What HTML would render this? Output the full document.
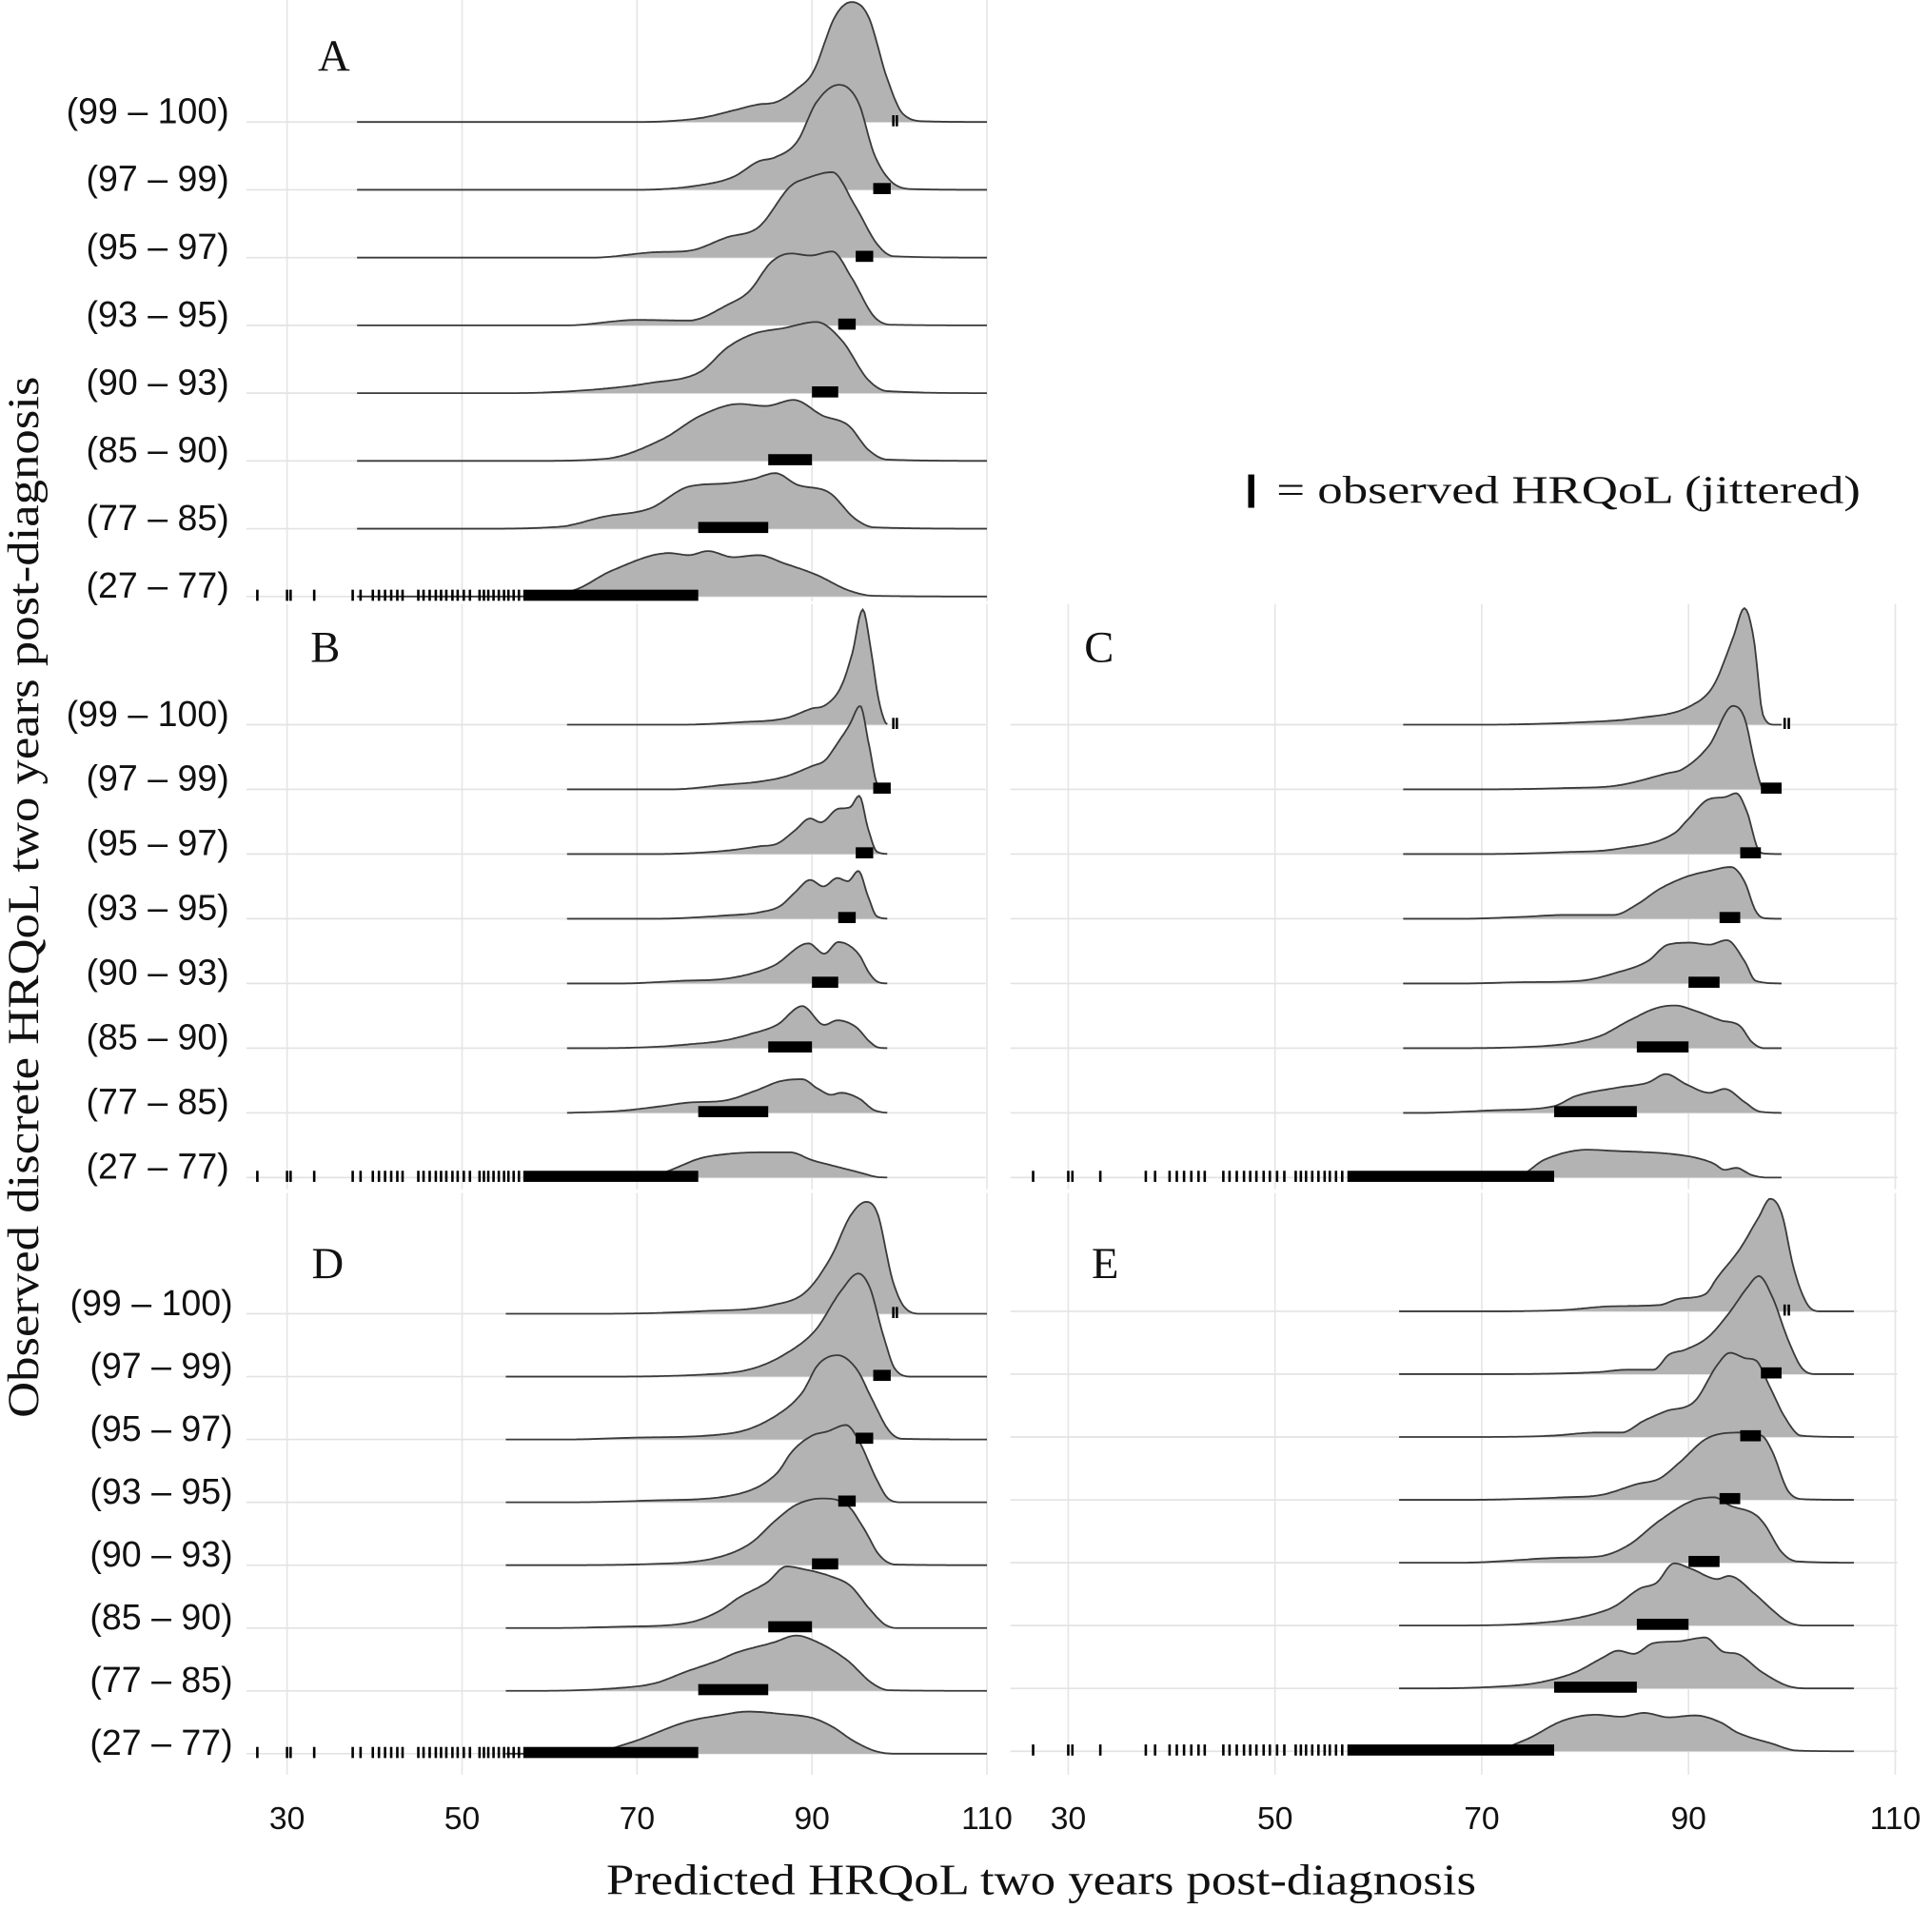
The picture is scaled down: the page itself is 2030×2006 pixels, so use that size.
<!DOCTYPE html>
<html><head><meta charset="utf-8"><style>
html,body{margin:0;padding:0;background:#fff;}
svg{display:block;}
.rl{font-family:"Liberation Sans",sans-serif;font-size:29px;fill:#111;}
.tk{font-family:"Liberation Sans",sans-serif;font-size:26px;fill:#111;}
.ser{font-family:"Liberation Serif",serif;fill:#111;}
</style></head><body>
<svg id="chart" width="2030" height="2006" viewBox="0 0 1568 1549" preserveAspectRatio="none" xmlns="http://www.w3.org/2000/svg">
<rect x="0" y="0" width="1568" height="1549" fill="#fff"/>
<g id="grid"></g>
<g id="dens"></g>
<g id="obs"></g>
<g id="labels"></g>
<text class="ser" x="845" y="1537" font-size="35" text-anchor="middle" textLength="706" lengthAdjust="spacingAndGlyphs">Predicted HRQoL two years post-diagnosis</text>
<text class="ser" x="0" y="0" font-size="36" text-anchor="middle" textLength="845" lengthAdjust="spacingAndGlyphs" transform="translate(31,728) rotate(-90)">Observed discrete HRQoL two years post-diagnosis</text>
<g>
<rect x="1013" y="385" width="5" height="27" fill="#000"/>
<text class="ser" x="1036" y="408" font-size="32" textLength="474" lengthAdjust="spacingAndGlyphs">= observed HRQoL (jittered)</text>
</g>
</svg>
<script>
// ---------- data ----------
const categories = ["(99 – 100)","(97 – 99)","(95 – 97)","(93 – 95)","(90 – 93)","(85 – 90)","(77 – 85)","(27 – 77)"];
const tickValues = [30,50,70,90,110];
const obsLo = [null,97,95,93,90,85,77,57];
const obsHi = [null,99,97,95,93,90,85,77];
const topRowTicks = [99.3,99.7];
const bottomRowTicks = [26.6,30,30.4,33.1,37.5,38.4,39.8,40.5,41.2,41.9,42.6,43.2,45,45.6,46.3,47,47.6,48.2,48.9,49.5,50.2,50.9,52,52.5,53,53.6,54.2,54.8,55.3,55.9,56.5];
// densities: [value, height in row-spacing units]
const densA = [
 [[70,0],[77.3,.06],[81,.17],[83.9,.26],[85.8,.29],[88.3,.49],[90.1,.73],[92.7,1.57],[94.5,1.77],[96.4,1.57],[98.6,.64],[100.4,.12],[103,.01]],
 [[70,0],[77.3,.07],[81,.19],[83.9,.42],[85.8,.48],[88.3,.71],[90.5,1.29],[93.1,1.55],[95.3,1.29],[97.1,.53],[99,.13],[101.5,.01]],
 [[65,0],[72.2,.08],[75.9,.1],[80.3,.3],[83.9,.45],[87.6,1.06],[89.4,1.17],[92.3,1.26],[94.9,.77],[97.5,.19],[99.3,.02]],
 [[62,0],[70,.08],[75.9,.07],[80.3,.3],[82.8,.5],[85.4,.94],[87.6,1.06],[89.8,1.03],[92.3,1.09],[94.5,.71],[97.1,.13],[99,.01]],
 [[55,0],[62.7,.03],[71.5,.15],[77.3,.32],[80.3,.67],[83.2,.87],[86.8,.96],[90.5,1.05],[93.4,.78],[96.4,.2],[98.6,.03]],
 [[58,0],[66.3,.03],[72.9,.32],[77.3,.67],[81.7,.84],[84.7,.81],[87.9,.9],[91.2,.67],[94.2,.52],[96.4,.17],[98.6,.02]],
 [[52,0],[61.2,.03],[66.3,.18],[71.5,.3],[75.9,.62],[80.3,.67],[83.2,.73],[85.8,.82],[88.3,.65],[92,.53],[94.9,.15],[97.1,.02]],
 [[55,0],[62.7,.09],[67.1,.38],[73.7,.64],[75.9,.61],[78.1,.67],[81,.58],[83.9,.61],[86.8,.49],[90.5,.32],[94.2,.09],[97.1,.01]]
];
const densB = [
 [[75,0],[82,.04],[87,.1],[90,.25],[91.5,.3],[93.3,.58],[94.6,1.1],[95.8,1.78],[96.8,1.1],[97.6,.4],[98.4,.03]],
 [[74,0],[80,.07],[84,.12],[87,.2],[90,.36],[91.5,.45],[92.9,.71],[94.3,1.0],[95.5,1.29],[96.5,.7],[97.4,.1],[98.2,.01]],
 [[72,0],[80,.05],[84,.12],[86,.16],[88,.36],[89.8,.55],[91,.49],[93,.7],[94.3,.72],[95.4,.9],[96.4,.4],[97.4,.04]],
 [[72,0],[80,.05],[84,.1],[86.4,.2],[88,.4],[89.8,.6],[91.3,.5],[92.9,.63],[94.1,.58],[95.3,.74],[96.4,.35],[97.4,.04]],
 [[68,0],[75,.04],[79.9,.07],[83,.15],[85.7,.28],[89.6,.62],[91.4,.46],[93,.64],[95.3,.46],[96.6,.15],[97.6,.02]],
 [[65,0],[72,.02],[76,.06],[80,.12],[83,.22],[86,.36],[88.9,.65],[91.4,.36],[92.9,.43],[95,.33],[96.6,.1],[97.6,.01]],
 [[62,0],[68,.03],[72.6,.1],[76,.16],[80,.19],[83.5,.34],[86.4,.49],[88.9,.52],[90.6,.38],[92.2,.28],[93.3,.31],[95.4,.22],[97,.05],[98,.01]],
 [[62,0],[70,.02],[72.6,.06],[77.3,.3],[80,.36],[84.2,.39],[87.5,.39],[90,.27],[92.5,.18],[95.4,.08],[97.4,.01]]
];
const densC = [
 [[70,0],[80,.04],[85,.1],[90.2,.29],[92.4,.6],[94.3,1.34],[95.4,1.8],[96.3,1.34],[97.2,.15],[98.3,0]],
 [[70,0],[78,.02],[83.1,.06],[88,.25],[89.4,.31],[92,.68],[94.3,1.29],[95.4,1.11],[96.5,.35],[97.2,.02]],
 [[70,0],[78,.03],[83.1,.08],[88.7,.33],[89.8,.51],[92,.85],[93.5,.88],[94.6,.94],[95.7,.63],[96.7,.08],[97.3,.01]],
 [[68,0],[74,.03],[78.3,.06],[82.8,.06],[85,.22],[87.2,.46],[89.8,.65],[92,.74],[94.1,.8],[95.4,.58],[96.5,.12],[97.3,.01]],
 [[68,0],[74,.02],[79.4,.04],[83.1,.17],[86.1,.35],[88,.6],[90.2,.63],[92,.6],[93.7,.67],[95.4,.35],[96.5,.04]],
 [[66,0],[75.7,.03],[81.3,.18],[84.3,.43],[86.9,.62],[88.7,.66],[90.6,.58],[93.1,.43],[95,.34],[96.1,.1],[97.3,0]],
 [[64,0],[71.3,.04],[76.9,.1],[79.1,.26],[83.1,.39],[86.1,.47],[87.8,.6],[89.8,.44],[92,.31],[93.5,.37],[95.4,.17],[96.9,.02]],
 [[64,0],[73.5,.03],[76.1,.28],[80.2,.43],[83.1,.41],[88,.37],[90.6,.31],[92.4,.22],[93.5,.12],[94.6,.15],[96.1,.04],[97.6,0]]
];
const densD = [
 [[65,0],[77.2,.04],[85.6,.14],[89.3,.35],[92.2,.91],[94.4,1.56],[96.2,1.78],[97.5,1.59],[99.2,.54],[100.6,.1],[102.5,0]],
 [[65,0],[77.2,.03],[83,.12],[86.7,.34],[90.4,.74],[93.3,1.36],[95.3,1.64],[96.6,1.42],[98.1,.68],[99.5,.12],[101.4,0]],
 [[62,0],[70,.03],[80.8,.1],[85.9,.38],[88.9,.75],[90.7,1.19],[92.9,1.34],[95.1,1.12],[96.9,.63],[98.8,.14],[100.3,.01]],
 [[62,0],[72,.03],[80.8,.11],[85.9,.45],[87.8,.82],[90,1.06],[91.8,1.13],[93.9,1.23],[95.5,.94],[97.3,.39],[98.8,.05],[100.3,0]],
 [[60,0],[72,.02],[79.4,.13],[83,.35],[85.9,.72],[88.2,.96],[91.1,1.06],[94,.96],[95.9,.59],[97.7,.16],[99.5,.01]],
 [[60,0],[68,.02],[75.7,.08],[79.4,.27],[81.6,.48],[84.9,.73],[87.1,.98],[88.9,.94],[92.2,.82],[94.4,.67],[96.6,.3],[98.4,.05],[99.8,0]],
 [[58,0],[68.3,.05],[72,.12],[75.7,.31],[79.4,.49],[81.2,.6],[85.6,.77],[88.2,.88],[90.7,.77],[94,.49],[96.9,.12],[98.8,.01]],
 [[57,0],[64.7,.02],[69.1,.17],[75.7,.51],[79.4,.61],[82.7,.67],[86.7,.63],[90,.57],[92.2,.44],[94.8,.2],[97.3,.04],[99.5,0]]
];
const densE = [
 [[70,0],[77.9,.02],[82.6,.08],[87.2,.1],[89.1,.2],[91.6,.27],[92.8,.54],[95,1.0],[96.8,1.5],[97.9,1.79],[99,1.56],[100.2,.67],[101.5,.11],[102.7,0]],
 [[70,0],[81,.03],[84.1,.07],[86.6,.07],[88.1,.31],[89.7,.39],[91.9,.59],[94,.99],[95.6,1.36],[96.8,1.56],[98.1,1.23],[99.6,.56],[101,.09],[102.4,0]],
 [[68,0],[76.7,.02],[81,.07],[83.5,.07],[85.7,.26],[87.8,.41],[90.6,.57],[92.8,1.15],[94,1.34],[95.6,1.25],[96.5,1.22],[97.8,.82],[99.3,.32],[100.9,.02]],
 [[68,0],[77.9,.04],[81.6,.08],[85,.25],[87.2,.34],[89.1,.59],[91.6,.96],[93.1,1.05],[95,1.07],[97.1,1.02],[98.1,.77],[99.6,.15],[101.2,.01]],
 [[68,0],[77.9,.08],[81.3,.1],[84.1,.27],[87.2,.67],[90.3,.98],[92.5,1.04],[94,.91],[96.5,.76],[97.4,.6],[99,.17],[100.5,.02]],
 [[66,0],[76.7,.06],[81,.19],[82.9,.31],[85.3,.59],[86.9,.68],[88.6,.99],[90.3,.9],[92.8,.74],[93.9,.79],[96.5,.49],[98.1,.25],[99.6,.06],[101.2,0]],
 [[64,0],[71.7,.03],[75.4,.09],[79.1,.26],[81.6,.48],[83.2,.6],[84.7,.55],[86.6,.72],[89.1,.75],[91.6,.81],[93.4,.58],[94.7,.55],[97.1,.26],[99.6,.04],[101.5,0]],
 [[64,0],[71.1,.02],[74.2,.18],[77.9,.49],[81,.58],[83.5,.55],[85.7,.61],[88.1,.54],[90.6,.57],[93.1,.46],[94.7,.3],[98.1,.12],[100.5,.01]]
];
// ---------- layout (not data) ----------
const panels = [
 {id:"A", dens:densA, x0:233, k:7.1, base0:99, sp:55, left:200, right:800, top:0, bottom:488, xs:38, xe:110, lab:[258,57], rowLabX:186, ticks:false},
 {id:"B", dens:densB, x0:233, k:7.1, base0:588, sp:52.5, left:200, right:800, top:490, bottom:965, xs:62, xe:98.7, lab:[252,537], rowLabX:186, ticks:false},
 {id:"C", dens:densC, x0:867, k:8.39, base0:588, sp:52.5, left:820, right:1540, top:490, bottom:965, xs:62.4, xe:99, lab:[880,537], rowLabX:null, ticks:false},
 {id:"D", dens:densD, x0:233, k:7.1, base0:1066, sp:51, left:200, right:800, top:968, bottom:1440, xs:55, xe:110, lab:[253,1037], rowLabX:189, ticks:true},
 {id:"E", dens:densE, x0:867, k:8.39, base0:1064, sp:51, left:820, right:1540, top:968, bottom:1440, xs:62, xe:106, lab:[886,1037], rowLabX:null, ticks:true}
];
const NS="http://www.w3.org/2000/svg";
function mk(tag, attrs, parent){const e=document.createElementNS(NS,tag);for(const k in attrs)e.setAttribute(k,attrs[k]);parent.appendChild(e);return e;}
function monotone(pts){
  const n=pts.length, xs=pts.map(p=>p[0]), ys=pts.map(p=>p[1]);
  const d=[],m=[];
  for(let i=0;i<n-1;i++)d.push((ys[i+1]-ys[i])/(xs[i+1]-xs[i]));
  m[0]=d[0];m[n-1]=d[n-2];
  for(let i=1;i<n-1;i++){m[i]=(d[i-1]*d[i]<=0)?0:(d[i-1]+d[i])/2;}
  for(let i=0;i<n-1;i++){if(d[i]===0){m[i]=0;m[i+1]=0;continue;}const a=m[i]/d[i],b=m[i+1]/d[i],s=a*a+b*b;if(s>9){const t=3/Math.sqrt(s);m[i]=t*a*d[i];m[i+1]=t*b*d[i];}}
  return function(x){
    if(x<=xs[0])return ys[0]; if(x>=xs[n-1])return ys[n-1];
    let i=0;while(x>xs[i+1])i++;
    const h=xs[i+1]-xs[i],t=(x-xs[i])/h,t2=t*t,t3=t2*t;
    return (2*t3-3*t2+1)*ys[i]+(t3-2*t2+t)*h*m[i]+(-2*t3+3*t2)*ys[i+1]+(t3-t2)*h*m[i+1];
  };
}
const grid=document.getElementById('grid'), dens=document.getElementById('dens'), obs=document.getElementById('obs'), labels=document.getElementById('labels');
panels.forEach(p=>{
  const X=v=>p.x0+(v-30)*p.k;
  const pg=mk('g',{},grid);
  
  
  tickValues.forEach(t=>{
    const x=X(t); if(x<p.left-5||x>p.right+5)return;
    const l=mk('line',{x1:x,x2:x,y1:p.top,y2:p.bottom,stroke:'#e6e6e6','stroke-width':1.3},pg);
    
    
  });
  categories.forEach((c,i)=>{
    const base=p.base0+i*p.sp;
    const l=mk('line',{x1:p.left,x2:p.right,y1:base,y2:base,stroke:'#e3e3e3','stroke-width':1.3},pg);
    
    
  });
  const dg=mk('g',{},dens);
  
  
  p.dens.forEach((row,i)=>{
    const base=p.base0+i*p.sp;
    const pts=[[p.xs,0]].concat(row.filter(q=>q[0]>p.xs&&q[0]<p.xe),[[p.xe,0]]);
    const f=monotone(pts);
    let line='';
    for(let v=p.xs;v<=p.xe+1e-6;v+=0.2){
      const h=Math.max(0,f(v));
      line+=(line?'L':'M')+X(v).toFixed(1)+','+(base-h*p.sp).toFixed(1);
    }
    const area=line+'L'+X(p.xe).toFixed(1)+','+base+'L'+X(p.xs).toFixed(1)+','+base+'Z';
    const a=mk('path',{d:area,fill:'#b3b3b3',stroke:'none'},dg);
    
    
    const ln=mk('path',{d:line,fill:'none',stroke:'#3a3a3a','stroke-width':1.4},dg);
    
    
  });
  const og=mk('g',{},obs);
  
  
  categories.forEach((c,i)=>{
    const base=p.base0+i*p.sp;
    if(obsLo[i]!==null){
      const r=mk('rect',{x:X(obsLo[i]),y:base-5.5,width:(obsHi[i]-obsLo[i])*p.k,height:9,fill:'#000'},og);
      
      
    }
    const tks = i===0?topRowTicks:(i===categories.length-1?bottomRowTicks:[]);
    tks.forEach(v=>{
      const r=mk('rect',{x:X(v)-1,y:base-5.5,width:2,height:9,fill:'#000'},og);
      
      
    });
  });
  const t=mk('text',{x:p.lab[0],y:p.lab[1],class:'ser','font-size':36},labels);
  t.textContent=p.id;
  
  
  if(p.rowLabX!==null){
    categories.forEach((c,i)=>{
      const base=p.base0+i*p.sp;
      const rl=mk('text',{x:p.rowLabX,y:base+1,class:'rl','text-anchor':'end'},labels);
      rl.textContent=c;
      
      
    });
  }
  if(p.ticks){
    tickValues.forEach(v=>{
      const tl=mk('text',{x:X(v),y:1484,class:'tk','text-anchor':'middle'},labels);
      tl.textContent=String(v);
      
      
    });
  }
});
</script>
</body></html>
